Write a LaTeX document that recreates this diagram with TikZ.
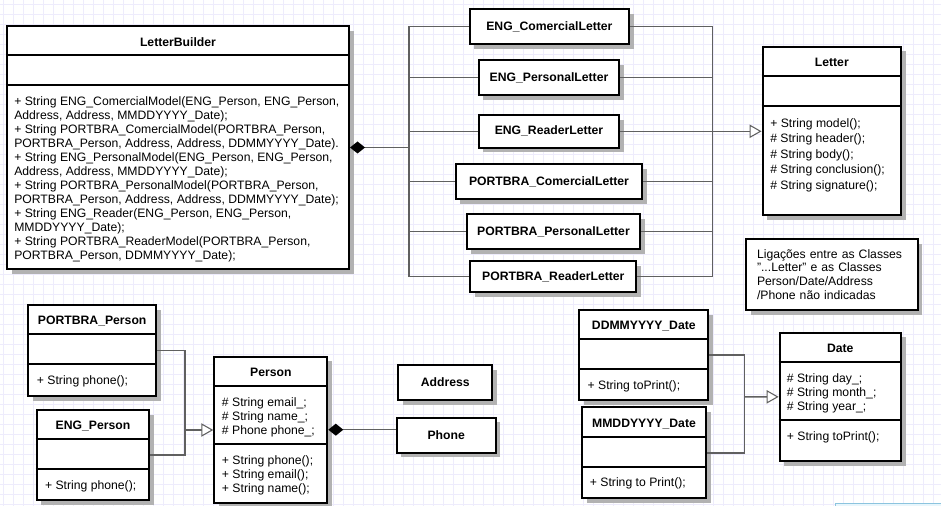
\documentclass[tikz,border=0pt]{standalone}
\usepackage{fontspec}
\setmainfont{Liberation Sans}
\usetikzlibrary{arrows.meta,shadows}
\definecolor{gridline}{RGB}{238,236,252}
\definecolor{linkgray}{RGB}{96,96,96}
\definecolor{selblue}{RGB}{140,196,222}
\definecolor{selfill}{RGB}{232,246,252}

\begin{document}
\begin{tikzpicture}[x=0.75pt, y=-0.75pt, font=\fontsize{9.15}{10.5}\selectfont,
  cls/.style = {draw, line width=1.5pt, fill=white, inner sep=0, drop shadow={shadow xshift=3.5pt, shadow yshift=-3.5pt, fill=black!30, opacity=1}},
  box/.style = {cls, font=\fontsize{9.15}{10.5}\selectfont\bfseries},
  title/.style = {font=\fontsize{9.15}{10.5}\selectfont\bfseries, inner sep=0, text depth=0pt},
  members/.style = {anchor=north west, align=left, inner sep=0},
  sep/.style = {line width=1.5pt},
  link/.style = {draw=linkgray, line width=1.1pt},
  comp/.style = {arrows={Diamond[length=11.25pt, width=9pt, color=black]-}},
  inherit/.style = {arrows={-Triangle[length=9pt, width=10pt, fill=white, line width=0.8pt]}}]
\useasboundingbox (0,0) rectangle (941,506);
% grid
\foreach \i in {0,...,94} \draw[gridline, line width=0.5pt] ({3.3+10*\i},0) -- ({3.3+10*\i},506);
\foreach \j in {0,...,50} \draw[gridline, line width=0.5pt] (0,{4+10*\j}) -- (941,{4+10*\j});
\fill[selfill] (835,503) rectangle (945,512);
\draw[selblue] (835,512) -- (835,503) -- (945,503);

% builder
\node[cls, minimum width=256.5pt, minimum height=182.25pt] (lb) at (178,147.5) {};
\node[title] (lbname) at ([yshift=-12.5pt]lb.north) {LetterBuilder};
\draw[sep] ([yshift=-22.5pt]lb.north west) -- ([yshift=-22.5pt]lb.north east);
\draw[sep] ([yshift=-45pt]lb.north west) -- ([yshift=-45pt]lb.north east);
\node[members] (lbops) at ([xshift=6pt, yshift=-53.25pt]lb.north west) {+ String ENG\_ComercialModel(ENG\_Person, ENG\_Person,\\Address, Address, MMDDYYYY\_Date);\\+ String PORTBRA\_ComercialModel(PORTBRA\_Person,\\PORTBRA\_Person, Address, Address, DDMMYYYY\_Date).\\+ String ENG\_PersonalModel(ENG\_Person, ENG\_Person,\\Address, Address, MMDDYYYY\_Date);\\+ String PORTBRA\_PersonalModel(PORTBRA\_Person,\\PORTBRA\_Person, Address, Address, DDMMYYYY\_Date);\\+ String ENG\_Reader(ENG\_Person, ENG\_Person,\\MMDDYYYY\_Date);\\+ String PORTBRA\_ReaderModel(PORTBRA\_Person,\\PORTBRA\_Person, DDMMYYYY\_Date);};

% letters
\node[box, minimum width=119.85pt, minimum height=26.25pt] (engcom) at (549.4,26.5) {ENG\_ComercialLetter};
\node[box, minimum width=105.45pt, minimum height=26.5pt] (engper) at (549,77.7) {ENG\_PersonalLetter};
\node[box, minimum width=105.45pt, minimum height=24.5pt] (engrea) at (549,131.3) {ENG\_ReaderLetter};
\node[box, minimum width=139.95pt, minimum height=26.25pt] (ptcom) at (549,181.5) {PORTBRA\_ComercialLetter};
\node[box, minimum width=130.2pt, minimum height=26.25pt] (ptper) at (553.5,231.5) {PORTBRA\_PersonalLetter};
\node[box, minimum width=124.5pt, minimum height=23.25pt] (ptrea) at (553.3,276.5) {PORTBRA\_ReaderLetter};

\node[cls, minimum width=103.8pt, minimum height=126.2pt] (letter) at (831.8,130.85) {};
\node[title] (lettername) at ([yshift=-12.5pt]letter.north) {Letter};
\draw[sep] ([yshift=-22.5pt]letter.north west) -- ([yshift=-22.5pt]letter.north east);
\draw[sep] ([yshift=-45pt]letter.north west) -- ([yshift=-45pt]letter.north east);
\node[members, font=\fontsize{9.15}{11.6}\selectfont] (letterops) at ([xshift=6.3pt, yshift=-54.5pt]letter.north west) {+ String model();\\\# String header();\\\# String body();\\\# String conclusion();\\\# String signature();};

\node[cls, minimum width=128.85pt, minimum height=53.25pt, align=left, text width=112.35pt, inner xsep=8.25pt, font=\fontsize{9.15}{10.3}\selectfont] (note) at (831.9,274.5) {Ligações entre as Classes\\"...Letter" e as Classes\\Person/Date/Address\\/Phone não indicadas};

% persons
\node[cls, minimum width=95.8pt, minimum height=68.25pt] (ptperson) at (92.2,350.5) {};
\node[title] (ptpersonname) at ([yshift=-12.5pt]ptperson.north) {PORTBRA\_Person};
\draw[sep] ([yshift=-22.5pt]ptperson.north west) -- ([yshift=-22.5pt]ptperson.north east);
\draw[sep] ([yshift=-45pt]ptperson.north west) -- ([yshift=-45pt]ptperson.north east);
\node[members] (ptpersonops) at ([xshift=7pt, yshift=-53.25pt]ptperson.north west) {+ String phone();};

\node[cls, minimum width=84.45pt, minimum height=67.5pt] (engperson) at (93,455) {};
\node[title] (engpersonname) at ([yshift=-12.5pt]engperson.north) {ENG\_Person};
\draw[sep] ([yshift=-22.5pt]engperson.north west) -- ([yshift=-22.5pt]engperson.north east);
\draw[sep] ([yshift=-45pt]engperson.north west) -- ([yshift=-45pt]engperson.north east);
\node[members] (engpersonops) at ([xshift=6.8pt, yshift=-53.25pt]engperson.north west) {+ String phone();};

\node[cls, minimum width=84.75pt, minimum height=109.5pt] (person) at (270.8,429.7) {};
\node[title] (personname) at ([yshift=-12.5pt]person.north) {Person};
\draw[sep] ([yshift=-23pt]person.north west) -- ([yshift=-23pt]person.north east);
\draw[sep] ([yshift=-66.2pt]person.north west) -- ([yshift=-66.2pt]person.north east);
\node[members] (personattr) at ([xshift=6.3pt, yshift=-31pt]person.north west) {\# String email\_;\\\# String name\_;\\\# Phone phone\_;};
\node[members] (personops) at ([xshift=6.3pt, yshift=-74.5pt]person.north west) {+ String phone();\\+ String email();\\+ String name();};

\node[box, minimum width=70.5pt, minimum height=26.25pt] (address) at (445.3,382.5) {Address};
\node[box, minimum width=74.25pt, minimum height=26.25pt] (phone) at (446.2,435.2) {Phone};

% dates
\node[cls, minimum width=96.75pt, minimum height=67.5pt] (ddmm) at (643.8,355) {};
\node[title] (ddmmname) at ([yshift=-12.5pt]ddmm.north) {DDMMYYYY\_Date};
\draw[sep] ([yshift=-22.5pt]ddmm.north west) -- ([yshift=-22.5pt]ddmm.north east);
\draw[sep] ([yshift=-45pt]ddmm.north west) -- ([yshift=-45pt]ddmm.north east);
\node[members] (ddmmops) at ([xshift=6.8pt, yshift=-53.5pt]ddmm.north west) {+ String toPrint();};

\node[cls, minimum width=93pt, minimum height=68.25pt] (mmdd) at (644,452.8) {};
\node[title] (mmddname) at ([yshift=-12.5pt]mmdd.north) {MMDDYYYY\_Date};
\draw[sep] ([yshift=-23.25pt]mmdd.north west) -- ([yshift=-23.25pt]mmdd.north east);
\draw[sep] ([yshift=-45.3pt]mmdd.north west) -- ([yshift=-45.3pt]mmdd.north east);
\node[members] (mmddops) at ([xshift=6.5pt, yshift=-53.5pt]mmdd.north west) {+ String to Print();};

\node[cls, minimum width=91pt, minimum height=96.2pt] (date) at (840.3,396.85) {};
\node[title] (datename) at ([yshift=-12.5pt]date.north) {Date};
\draw[sep] ([yshift=-22.5pt]date.north west) -- ([yshift=-22.5pt]date.north east);
\draw[sep] ([yshift=-66.2pt]date.north west) -- ([yshift=-66.2pt]date.north east);
\node[members] (dateattr) at ([xshift=6pt, yshift=-31pt]date.north west) {\# String day\_;\\\# String month\_;\\\# String year\_;};
\node[members] (dateops) at ([xshift=6pt, yshift=-74.5pt]date.north west) {+ String toPrint();};

% connectors
\coordinate (jl) at (409,147.5);
\coordinate (jr) at (712.5,131);
\draw[link, comp] (lb.east) -- (jl);
\draw[link] (jl |- engcom.west) -- (jl |- ptrea.west);
\draw[link] (jl |- engcom.west) -- (engcom.west);
\draw[link] (jl |- engper.west) -- (engper.west);
\draw[link] (jl |- engrea.west) -- (engrea.west);
\draw[link] (jl |- ptcom.west) -- (ptcom.west);
\draw[link] (jl |- ptper.west) -- (ptper.west);
\draw[link] (jl |- ptrea.west) -- (ptrea.west);
\draw[link] (engcom.east) -- (jr |- engcom.east);
\draw[link] (engper.east) -- (jr |- engper.east);
\draw[link] (ptcom.east) -- (jr |- ptcom.east);
\draw[link] (ptper.east) -- (jr |- ptper.east);
\draw[link] (ptrea.east) -- (jr |- ptrea.east);
\draw[link] (jr |- engcom.east) -- (jr |- ptrea.east);
\draw[link, inherit] (engrea.east) -- (engrea.east -| letter.west);

\coordinate (jp) at (185,430);
\draw[link] (ptperson.east) -| (jp);
\draw[link] (engperson.east) -| (jp);
\draw[link, inherit] (jp) -- (jp -| person.west);
\draw[link, comp] (person.east) -- (person.east -| phone.west);

\coordinate (jd) at (744.3,396.8);
\draw[link] (ddmm.east) -| (jd);
\draw[link] (mmdd.east) -| (jd);
\draw[link, inherit] (jd) -- (date.west);
\end{tikzpicture}
\end{document}
